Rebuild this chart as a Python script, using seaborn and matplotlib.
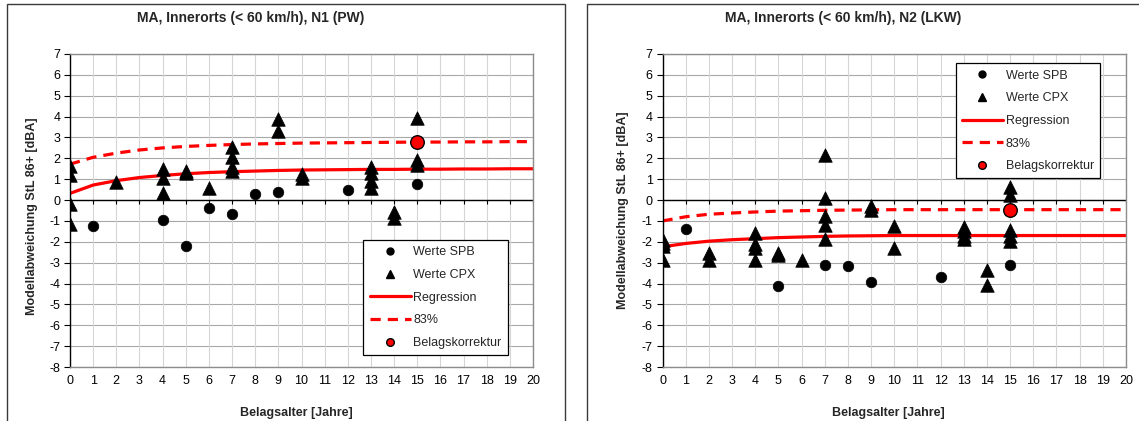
import matplotlib
matplotlib.use("Agg")
import matplotlib.pyplot as plt
from matplotlib.lines import Line2D
from matplotlib.patches import Rectangle
import seaborn as sns
import numpy as np

# ---------------- data ----------------
years = list(range(0, 21))

# Panel 1: N1 (PW)
pw_spb_x = [1, 4, 5, 6, 7, 8, 9, 12, 15]
pw_spb_y = [-1.23, -0.97, -2.18, -0.40, -0.69, 0.27, 0.38, 0.48, 0.77]
pw_cpx_x = [0, 0, 0, 0, 2, 4, 4, 4, 5, 5, 6, 7, 7, 7, 7, 9, 9, 10, 10,
            13, 13, 13, 13, 14, 14, 15, 15, 15]
pw_cpx_y = [1.65, 1.18, -0.21, -1.17, 0.88, 1.50, 1.04, 0.32, 1.40, 1.30, 0.56,
            2.56, 2.08, 1.60, 1.38, 3.87, 3.33, 1.25, 1.05,
            1.60, 1.30, 0.90, 0.60, -0.55, -0.87, 3.93, 1.92, 1.68]
pw_reg = [0.32, 0.72, 0.93, 1.08, 1.18, 1.26, 1.32, 1.36, 1.39, 1.42, 1.44,
          1.45, 1.46, 1.47, 1.47, 1.48, 1.48, 1.49, 1.49, 1.50, 1.50]
pw_83 = [1.72, 2.05, 2.25, 2.40, 2.50, 2.57, 2.62, 2.66, 2.69, 2.71, 2.73,
         2.74, 2.75, 2.76, 2.77, 2.78, 2.78, 2.79, 2.79, 2.80, 2.80]
pw_korr_x = [15]
pw_korr_y = [2.76]

# Panel 2: N2 (LKW)
lkw_spb_x = [1, 5, 7, 8, 9, 12, 15]
lkw_spb_y = [-1.37, -4.13, -3.13, -3.15, -3.94, -3.69, -3.10]
lkw_cpx_x = [0, 0, 0, 0, 2, 2, 4, 4, 4, 4, 5, 5, 6, 7, 7, 7, 7, 7, 9, 9, 10, 10,
             13, 13, 13, 13, 14, 14, 15, 15, 15, 15, 15]
lkw_cpx_y = [-1.90, -2.05, -2.20, -2.86, -2.54, -2.86, -1.60, -2.10, -2.30, -2.86,
             -2.52, -2.65, -2.86, 2.17, 0.10, -0.78, -1.18, -1.85, -0.30, -0.46,
             -1.26, -2.30, -1.30, -1.50, -1.70, -1.85, -3.33, -4.05,
             0.65, 0.25, -1.42, -1.74, -1.98]
lkw_reg = [-2.24, -2.08, -1.97, -1.90, -1.85, -1.80, -1.77, -1.74, -1.72, -1.71,
           -1.70, -1.70, -1.70, -1.70, -1.70, -1.70, -1.70, -1.70, -1.70, -1.70, -1.70]
lkw_83 = [-1.00, -0.80, -0.68, -0.62, -0.57, -0.53, -0.51, -0.49, -0.48, -0.47,
          -0.46, -0.46, -0.46, -0.46, -0.46, -0.46, -0.46, -0.46, -0.46, -0.46, -0.46]
lkw_korr_x = [15]
lkw_korr_y = [-0.46]

titles = ["MA, Innerorts (< 60 km/h), N1 (PW)", "MA, Innerorts (< 60 km/h), N2 (LKW)"]
xlabel = "Belagsalter [Jahre]"
ylabel = "Modellabweichung StL 86+ [dBA]"
legend_labels = ["Werte SPB", "Werte CPX", "Regression", "83%", "Belagskorrektur"]
yticks = list(range(-8, 8))

# ---------------- style ----------------
sns.set_theme(style="white")
plt.rcParams["font.family"] = ["Liberation Sans", "DejaVu Sans"]
plt.rcParams["axes.unicode_minus"] = False

W, H = 1139, 421
fig = plt.figure(figsize=(W / 100, H / 100), dpi=100)


def fx(px):
    return px / W


def fy(py):
    return 1 - py / H


# panel frames
for x0, x1 in [(7, 565), (587, 1145)]:
    fig.patches.append(Rectangle((fx(x0), -0.05), fx(x1) - fx(x0), fy(4) + 0.05,
                                 transform=fig.transFigure, fill=False,
                                 edgecolor="#3a3a3a", linewidth=1.0, zorder=0))

panels = [
    dict(ax_px=(70, 533), spb=(pw_spb_x, pw_spb_y), cpx=(pw_cpx_x, pw_cpx_y),
         reg=pw_reg, p83=pw_83, korr=(pw_korr_x, pw_korr_y), title_x=251,
         ylab=(-0.070, 0.482), xlab=(0.488, -0.128),
         leg=dict(loc="upper right", bbox_to_anchor=(0.946, 0.405))),
    dict(ax_px=(662.5, 1126), spb=(lkw_spb_x, lkw_spb_y), cpx=(lkw_cpx_x, lkw_cpx_y),
         reg=lkw_reg, p83=lkw_83, korr=(lkw_korr_x, lkw_korr_y), title_x=843,
         ylab=(-0.072, 0.50), xlab=(0.487, -0.128),
         leg=dict(loc="upper right", bbox_to_anchor=(0.944, 0.970))),
]

top_px, bot_px = 54, 367
for i, p in enumerate(panels):
    l, r = p["ax_px"]
    ax = fig.add_axes([fx(l), fy(bot_px), fx(r) - fx(l), (bot_px - top_px) / H])
    ax.set_xlim(0, 20)
    ax.set_ylim(-8, 7)

    # grid
    for yv in yticks:
        ax.axhline(yv, color="#a8a8a8", lw=0.8, zorder=0)
    for xv in years:
        ax.axvline(xv, color="#d6d6d6", lw=0.8, zorder=0)
    ax.axhline(0, color="black", lw=1.0, zorder=1)
    # tick marks hanging below the zero line
    ax.vlines(years, -0.2, 0, color="black", lw=0.8, zorder=1)

    # curves
    sns.lineplot(x=years, y=p["reg"], ax=ax, color="#ff0000", lw=2.3, zorder=2)
    sns.lineplot(x=years, y=p["p83"], ax=ax, color="#ff0000", lw=2.3,
                 linestyle=(0, (3.2, 2.2)), zorder=2)

    # points
    sns.scatterplot(x=p["spb"][0], y=p["spb"][1], ax=ax, marker="o", s=58,
                    color="black", edgecolor="black", linewidth=0.5, zorder=3)
    sns.scatterplot(x=p["cpx"][0], y=p["cpx"][1], ax=ax, marker="^", s=95,
                    color="black", edgecolor="black", linewidth=0.5, zorder=3)
    sns.scatterplot(x=p["korr"][0], y=p["korr"][1], ax=ax, marker="o", s=95,
                    color="#ff0000", edgecolor="black", linewidth=1.0, zorder=4)

    # spines
    for s in ["top", "right", "bottom"]:
        ax.spines[s].set_color("#8c8c8c")
        ax.spines[s].set_linewidth(1.0)
    ax.spines["left"].set_color("black")
    ax.spines["left"].set_linewidth(1.0)

    ax.set_xticks(years)
    ax.set_yticks(yticks)
    ax.tick_params(axis="x", length=0, pad=6, labelsize=9, colors="black")
    ax.tick_params(axis="y", direction="out", length=4, width=0.8, pad=3,
                   labelsize=9, left=True, colors="black")

    ax.set_xlabel(xlabel, fontsize=9, fontweight="bold")
    ax.set_ylabel(ylabel, fontsize=9, fontweight="bold")
    ax.xaxis.set_label_coords(*p["xlab"])
    ax.yaxis.set_label_coords(*p["ylab"])

    fig.text(fx(p["title_x"]), fy(18), titles[i], ha="center", va="center",
             fontsize=10, fontweight="bold")

    handles = [
        Line2D([], [], marker="o", color="black", linestyle="none", markersize=5),
        Line2D([], [], marker="^", color="black", linestyle="none", markersize=6),
        Line2D([], [], color="#ff0000", lw=2.3),
        Line2D([], [], color="#ff0000", lw=2.3, linestyle=(0, (3.2, 2.2))),
        Line2D([], [], marker="o", color="#ff0000", markeredgecolor="black",
               linestyle="none", markersize=5.5),
    ]
    leg = ax.legend(handles, legend_labels, fontsize=9, frameon=True, fancybox=False,
                    framealpha=1, edgecolor="black", handlelength=3.3,
                    handletextpad=0.2, labelspacing=0.85, borderpad=0.5,
                    borderaxespad=0, **p["leg"])
    leg.get_frame().set_linewidth(0.9)
    leg.set_zorder(5)

fig.savefig("out.png", dpi=100)
